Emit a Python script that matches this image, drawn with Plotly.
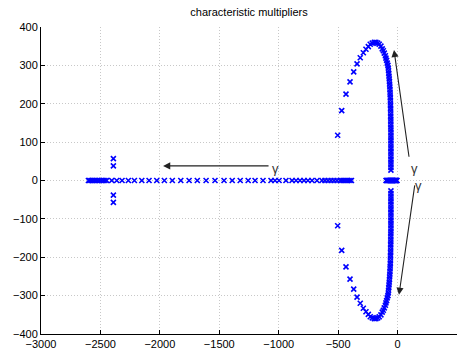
import plotly.graph_objects as go

# real-axis multipliers (left family)
real_left = [-2601, -2590, -2578, -2565, -2551, -2537, -2522, -2507, -2492, -2477, -2462,
             -2447, -2405, -2363, -2318, -2265, -2214, -2152, -2091, -2026, -1962, -1895,
             -1824, -1754, -1685, -1611, -1536, -1460, -1391, -1324, -1257, -1199, -1132,
             -1065, -1031, -997, -939, -888, -854, -821, -787, -754, -720, -678, -636,
             -611, -585, -560, -535, -510, -484, -468, -451, -434, -417, -400, -388]
# real-axis multipliers near zero
real_right = [-97, -92, -87, -82, -77, -72, -67, -62, -57, -52, -47, -42, -37, -32,
              -27, -22, -17, -12, -8, -5]
# isolated complex pair near -2400 (upper half)
pair_re = [-2391, -2391]
pair_im = [38, 57]
# loop (upper half, conjugates mirrored below)
loop_re = [-504, -470, -434, -400, -369, -341, -314, -288, -266, -246, -230, -213, -196,
           -182, -167, -154, -140, -129, -120, -112, -103, -98, -92, -87, -81,
           -78, -76, -74, -72, -70, -68, -67, -65, -64, -63, -62, -61, -60, -60, -59,
           -59, -58, -58, -58, -57, -57, -57, -57, -56, -56, -56, -56, -56, -56, -56,
           -56, -56, -56, -56, -56, -56, -56, -56, -56]
loop_im = [118, 182, 225, 257, 283, 304, 320, 333, 342, 349, 355, 358, 360,
           360, 358, 355, 350, 343, 338, 332, 325, 319, 313, 306, 300,
           293, 286, 279, 272, 265, 258, 251, 244, 237, 230, 223, 216, 209, 202, 195,
           188, 181, 174, 167, 160, 153, 146, 139, 132, 125, 118, 111, 104, 97, 90,
           83, 76, 69, 62, 55, 48, 41, 34, 27]

xs = list(real_left) + list(real_right)
ys = [0] * len(xs)
for r, i in zip(pair_re + loop_re, pair_im + loop_im):
    xs += [r, r]
    ys += [i, -i]

fig = go.Figure()
fig.add_trace(go.Scatter(
    x=xs, y=ys, mode="markers",
    marker=dict(symbol="x-thin", size=5, line=dict(color="#0000FF", width=1.6), color="#0000FF"),
    showlegend=False, hoverinfo="skip"))

# arrows: (head_x, head_y, tail_x, tail_y)
arrows = [(-1973, 38, -1073, 38), (-30, 340, 98, 58), (12, -298, 146, -9)]
labels = [(-1070, 30), (96, 30), (132, -14)]

for hx, hy, tx, ty in arrows:
    fig.add_annotation(x=hx, y=hy, ax=tx, ay=ty, xref="x", yref="y", axref="x", ayref="y",
                       showarrow=True, arrowhead=2, arrowsize=1.3, arrowwidth=1.1,
                       arrowcolor="#222222", text="")
for lx, ly in labels:
    fig.add_annotation(x=lx, y=ly, xref="x", yref="y", text="γ", showarrow=False,
                       xanchor="left", yanchor="middle",
                       font=dict(family="Liberation Sans, Arial", size=13, color="#333333"))

axis_common = dict(showgrid=True, gridcolor="#C8C8C8", griddash="1px,2px", gridwidth=1,
                   zeroline=False, showline=True, linecolor="black", linewidth=1,
                   ticks="inside", ticklen=4, tickcolor="black", mirror=False,
                   automargin=False,
                   tickfont=dict(family="Liberation Sans, Arial", size=11, color="black"))

fig.update_xaxes(range=[-3000, 500], tickvals=list(range(-3000, 501, 500)), **axis_common)
fig.update_yaxes(range=[-400, 400], tickvals=list(range(-400, 401, 100)), **axis_common)

fig.update_layout(
    width=465, height=349,
    margin=dict(l=41, r=8, t=27, b=15),
    paper_bgcolor="white", plot_bgcolor="white",
    title=dict(text="characteristic multipliers", x=(41 + 457) / 2 / 465, xanchor="center",
               y=1 - 12 / 349, yanchor="middle",
               font=dict(family="Liberation Sans, Arial", size=11, color="black")),
)

fig.write_html("out.html")
